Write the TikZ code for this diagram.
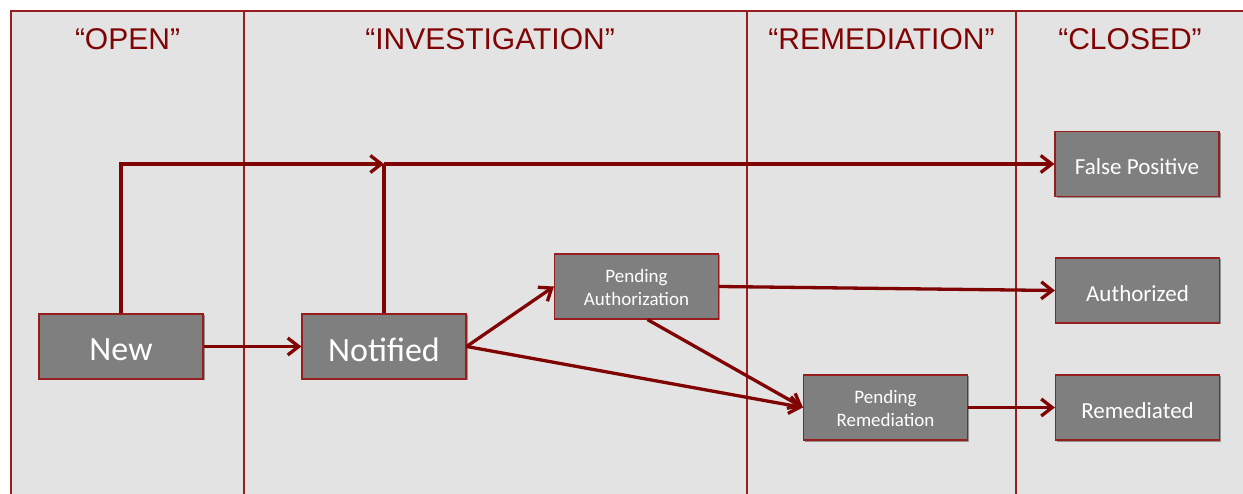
\documentclass[tikz,border=0pt]{standalone}
\usepackage{fontspec}
\setmainfont{Liberation Sans}
\newfontfamily\boxfont{Carlito}
\usetikzlibrary{arrows.meta,shadows}
\definecolor{darkred}{RGB}{128,4,4}
\definecolor{framered}{RGB}{150,30,30}
\definecolor{bggray}{RGB}{227,227,227}
\definecolor{boxgray}{RGB}{127,127,127}
\newcommand\lowr[1]{\raisebox{-3pt}[\height][\depth]{#1}}
\newcommand\twolines[2]{\lowr{\begin{tabular}{@{}c@{}}#1\\#2\end{tabular}}}
\tikzset{
  state/.style={draw=framered, line width=1.2pt, fill=boxgray, text=white,
    minimum width=164pt, minimum height=65pt, inner sep=0pt, align=center,
    drop shadow={shadow xshift=1.5pt, shadow yshift=-1.5pt, opacity=0.35, fill=black}},
  bigtxt/.style={font=\boxfont\fontsize{34}{40}\selectfont},
  midtxt/.style={font=\boxfont\fontsize{23}{27}\selectfont},
  smalltxt/.style={font=\boxfont\fontsize{19}{23}\selectfont},
  header/.style={text=darkred, font=\fontsize{30}{36}\selectfont, inner sep=0pt},
  lane/.style={draw=framered, line width=1.6pt},
  conn/.style={draw=darkred, line width=3.3pt},
  arr/.style={conn, -{Straight Barb[length=11pt, width=17pt, line width=3.3pt]}}
}
\begin{document}
\begin{tikzpicture}[x=1pt, y=-1pt]
\useasboundingbox (0,0) rectangle (1243,494);
\clip (0,0) rectangle (1243,494);
% background frame
\fill[bggray] (11,11) rectangle (1260,510);
\draw[lane] (1260,11) -- (11,11) -- (11,510);
\draw[lane] (244,11) -- (244,510);
\draw[lane] (747,11) -- (747,510);
\draw[lane] (1016,11) -- (1016,510);
% headers
\node[header] (hopen) at (127.5,39) {“OPEN”};
\node[header] (hinv) at (490,39) {“INVESTIGATION”};
\node[header] (hrem) at (881.5,39) {“REMEDIATION”};
\node[header] (hclo) at (1130,39) {“CLOSED”};
% states
\node[state, bigtxt] (new) at (121,346.5) {\lowr{New}};
\node[state, bigtxt] (notified) at (384,346.5) {\lowr{Notified}};
\node[state, smalltxt] (pa) at (636.5,286.5) {\twolines{Pending}{Authorization}};
\node[state, smalltxt] (pr) at (885.5,407.5) {\twolines{Pending}{Remediation}};
\node[state, midtxt] (fp) at (1137,164) {\lowr{False Positive}};
\node[state, midtxt] (auth) at (1137.5,290.5) {\lowr{Authorized}};
\node[state, midtxt] (rem) at (1137.5,407.5) {\lowr{Remediated}};
% connectors
\coordinate (jn) at (384,164);
\draw[arr] (new.north) |- (jn);
\draw[conn] (notified.north) -- (jn);
\draw[arr] (jn) -- (fp.west);
\draw[arr] (new.east) -- (notified.west);
\draw[arr] (notified.east) -- (pa.west);
\draw[arr] (notified.east) -- (pr.west);
\draw[arr] ([xshift=11pt]pa.south) -- (pr.west);
\draw[arr] (pa.east) -- (auth.west);
\draw[arr] (pr.east) -- (rem.west);
\end{tikzpicture}
\end{document}
